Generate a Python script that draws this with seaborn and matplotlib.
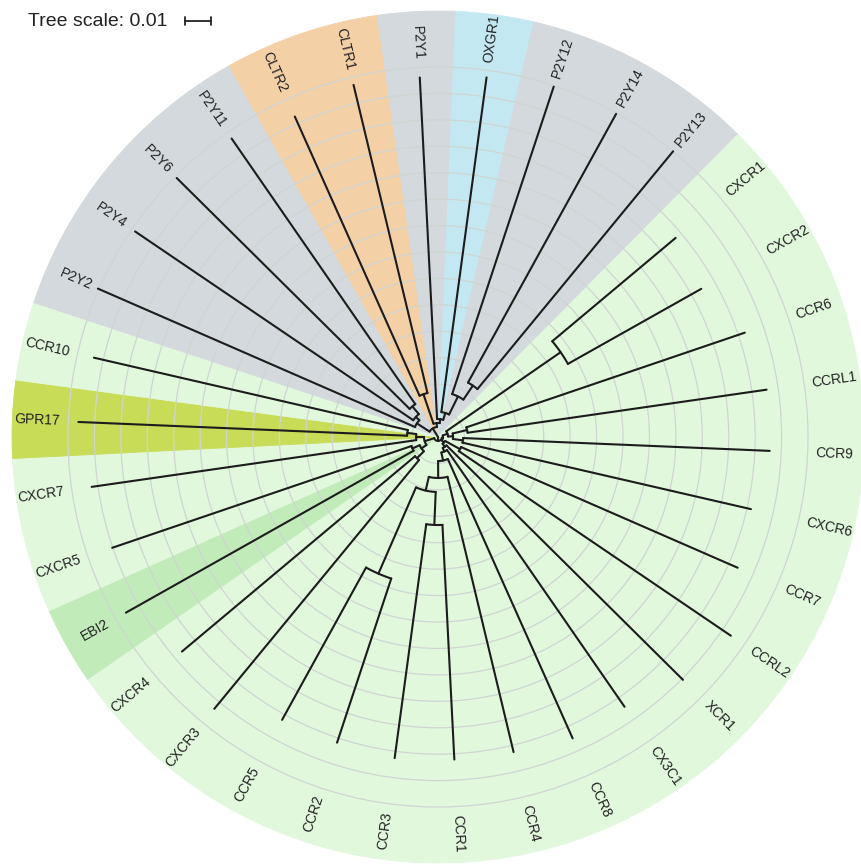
from itertools import groupby

import numpy as np
import pandas as pd
import matplotlib
matplotlib.use("Agg")
import matplotlib.pyplot as plt
from matplotlib.patches import Wedge, Circle
import seaborn as sns

# Leaves in drawing order (clockwise, starting at P2Y2)
LEAVES = ["P2Y2", "P2Y4", "P2Y6", "P2Y11", "CLTR2", "CLTR1", "P2Y1", "OXGR1",
          "P2Y12", "P2Y14", "P2Y13", "CXCR1", "CXCR2", "CCR6", "CCRL1", "CCR9",
          "CXCR6", "CCR7", "CCRL2", "XCR1", "CX3C1", "CCR8", "CCR4", "CCR1",
          "CCR3", "CCR2", "CCR5", "CXCR3", "CXCR4", "EBI2", "CXCR5", "CXCR7",
          "GPR17", "CCR10"]

# distance of each tip from the root (substitutions / site)
LEAF_DEPTH = [0.1404, 0.1385, 0.1392, 0.1373, 0.1328, 0.1370, 0.1362, 0.1373,
              0.1396, 0.1396, 0.1400, 0.1173, 0.1143, 0.1226, 0.1256, 0.1256,
              0.1215, 0.1237, 0.1339, 0.1305, 0.1241, 0.1249, 0.1226, 0.1222,
              0.1226, 0.1218, 0.1222, 0.1332, 0.1264, 0.1355, 0.1302, 0.1324,
              0.1362, 0.1336]

LEAF_GROUP = ["P2Y", "P2Y", "P2Y", "P2Y", "CysLT", "CysLT", "P2Y", "OXGR",
              "P2Y", "P2Y", "P2Y"] + ["chemokine"] * 18 + ["EBI2", "chemokine",
              "chemokine", "GPR17", "chemokine"]

# internal nodes: (name, children, depth) - children listed before parents
NODES = [
    ("a1", ["P2Y14", "P2Y13"], 0.0235),
    ("a2", ["P2Y12", "a1"], 0.0171),
    ("a3", ["OXGR1", "a2"], 0.0095),
    ("a4", ["CLTR2", "CLTR1"], 0.0171),
    ("a5", ["P2Y1", "a3"], 0.0068),
    ("a6", ["a4", "a5"], 0.0053),
    ("b1", ["P2Y6", "P2Y11"], 0.0151),
    ("b2", ["P2Y4", "b1"], 0.0113),
    ("b3", ["P2Y2", "b2"], 0.0095),
    ("p2y", ["b3", "a6"], 0.0038),
    ("c1", ["CXCR1", "CXCR2"], 0.0564),
    ("c2", ["CCR6", "CCRL1"], 0.0113),
    ("c3", ["CCR9", "CXCR6"], 0.0095),
    ("c4", ["c2", "c3"], 0.0057),
    ("c5", ["c1", "c4"], 0.0038),
    ("c6", ["CCR7", "CCRL2"], 0.0095),
    ("c7", ["CCR1", "CCR3"], 0.0333),
    ("c8", ["CCR2", "CCR5"], 0.0564),
    ("c9", ["c7", "c8"], 0.0208),
    ("c10", ["CCR4", "c9"], 0.0155),
    ("c11", ["CCR8", "c10"], 0.0091),
    ("c12", ["CX3C1", "c11"], 0.0060),
    ("c13", ["XCR1", "c12"], 0.0045),
    ("c14", ["c6", "c13"], 0.0031),
    ("c15", ["c5", "c14"], 0.0019),
    ("d1", ["CXCR3", "CXCR4"], 0.0113),
    ("d2", ["EBI2", "CXCR5"], 0.0106),
    ("d3", ["d1", "d2"], 0.0076),
    ("d4", ["GPR17", "CCR10"], 0.0117),
    ("d5", ["CXCR7", "d4"], 0.0083),
    ("d6", ["d3", "d5"], 0.0053),
    ("c16", ["c15", "d6"], 0.0015),
    ("root", ["p2y", "c16"], 0.0),
]

GROUP_COLORS = {"P2Y": "#d3d9dc", "CysLT": "#f4d0a7", "OXGR": "#c4e8f2",
                "chemokine": "#e1f8dd", "GPR17": "#c9dc58", "EBI2": "#c1ebb9"}

SCALE_VALUE = 0.01
RING_VALUES = [0.01, 0.02, 0.03, 0.04, 0.05, 0.06, 0.07, 0.08, 0.09, 0.10,
               0.11, 0.12, 0.13, 0.14]

# layout (pixels)
W, H = 862, 865
CX, CY = 438, 428
PX_PER_UNIT = 2643
R_OUTER = 426
R_LABEL = 378
START_ANGLE = -2.9 - 6 * 360 / 34   # clockwise from 12 o'clock, for first leaf

sns.set_theme(style="white")
plt.rcParams["font.family"] = ["Liberation Sans", "DejaVu Sans"]

fig = plt.figure(figsize=(W / 100, H / 100), dpi=100)
ax = fig.add_axes([0, 0, 1, 1])

n = len(LEAVES)
step = 360 / n
# math angle (counter-clockwise from +x) of each leaf
phi = {name: 90 - (START_ANGLE + i * step) for i, name in enumerate(LEAVES)}
depth = dict(zip(LEAVES, LEAF_DEPTH))
for name, kids, d in NODES:
    phi[name] = (phi[kids[0]] + phi[kids[-1]]) / 2
    depth[name] = d


def pt(r, a):
    a = np.radians(a)
    return CX + r * np.cos(a), CY + r * np.sin(a)


# coloured sectors, one wedge per run of same-group leaves
for grp, run in groupby(zip(LEAVES, LEAF_GROUP), key=lambda t: t[1]):
    run = [phi[name] for name, _ in run]
    ax.add_patch(Wedge((CX, CY), R_OUTER, min(run) - step / 2,
                       max(run) + step / 2, facecolor=GROUP_COLORS[grp],
                       edgecolor=GROUP_COLORS[grp], lw=0.6, zorder=0))

# scale rings
for v in RING_VALUES:
    ax.add_patch(Circle((CX, CY), v * PX_PER_UNIT, fill=False,
                        edgecolor="#cfd5d2", lw=0.9, zorder=1))

# branch segments -> one long table, drawn with seaborn
rows = []
seg = 0
for name, kids, d in NODES:
    r0 = d * PX_PER_UNIT
    a_lo, a_hi = sorted([phi[kids[0]], phi[kids[-1]]])
    for a in np.linspace(a_lo, a_hi, 40):
        x, y = pt(r0, a)
        rows.append((seg, x, y))
    seg += 1
    for k in kids:
        for r in (r0, depth[k] * PX_PER_UNIT):
            x, y = pt(r, phi[k])
            rows.append((seg, x, y))
        seg += 1
branches = pd.DataFrame(rows, columns=["seg", "x", "y"])
sns.lineplot(data=branches, x="x", y="y", units="seg", estimator=None,
             sort=False, color="#1c1c1c", lw=1.5, ax=ax, zorder=3)
ax.set_xlim(0, W)
ax.set_ylim(0, H)
ax.set_aspect("equal")
ax.axis("off")

# leaf labels
for name in LEAVES:
    a = phi[name]
    x, y = pt(R_LABEL, a)
    if np.cos(np.radians(a)) >= 0:
        rot, ha = a, "left"
    else:
        rot, ha = a - 180, "right"
    ax.text(x, y, name, rotation=rot, ha=ha, va="center",
            rotation_mode="anchor", fontsize=10, color="#222222", zorder=4)

# tree scale
ax.text(28, H - 21, f"Tree scale: {SCALE_VALUE}", fontsize=14,
        color="#222222", va="center", ha="left")
bar = SCALE_VALUE * PX_PER_UNIT
ax.plot([185, 185 + bar], [H - 21, H - 21], color="#222222", lw=1.3)
ax.plot([185, 185], [H - 25, H - 17], color="#222222", lw=1.3)
ax.plot([185 + bar, 185 + bar], [H - 25, H - 17], color="#222222", lw=1.3)

fig.savefig("out.png", dpi=100, facecolor="white")
